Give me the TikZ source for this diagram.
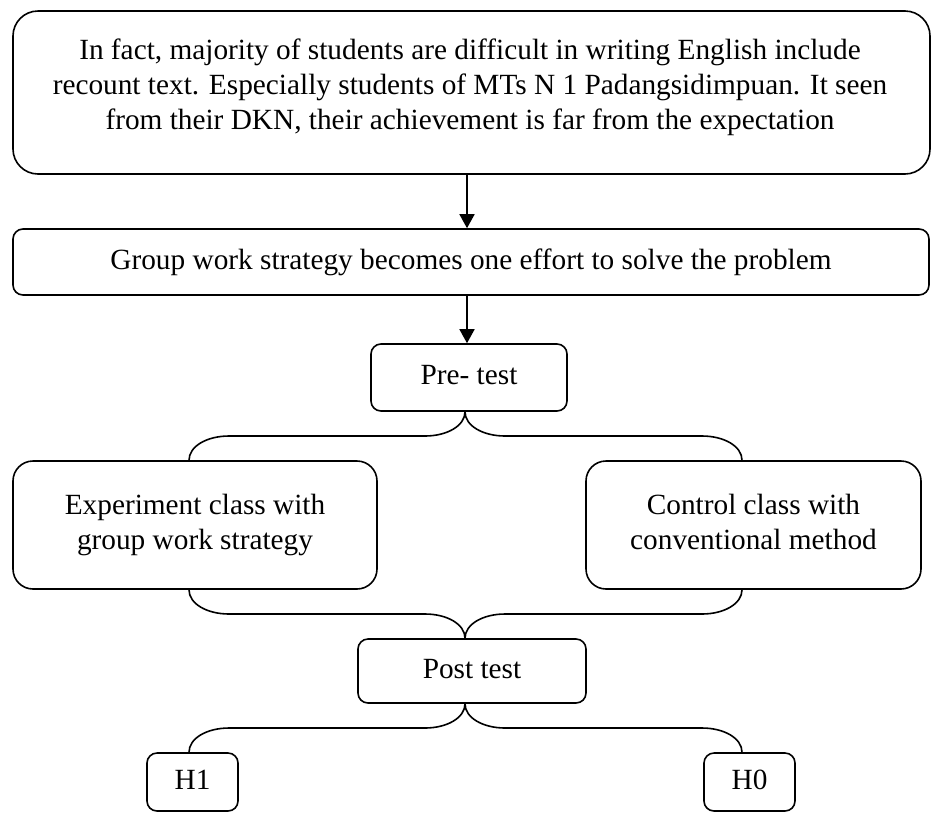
\documentclass[tikz,border=0pt]{standalone}
\usepackage{fontspec}
\setmainfont{Liberation Serif}
\usetikzlibrary{arrows.meta,calc}
\newcommand\sconn[3]{%
  \coordinate (sc-m) at ($(#1)!0.5!(#2)$);
  \draw[conn] (#1) .. controls ([yshift=-14pt]#1) and ($(#1 |- sc-m)+({(#3)*18},0)$) .. ($(#1 |- sc-m)+({(#3)*40},0)$)
    -- ($(#2 |- sc-m)+({-(#3)*40},0)$) .. controls ($(#2 |- sc-m)+({-(#3)*18},0)$) and ([yshift=14pt]#2) .. (#2);}
\begin{document}
\begin{tikzpicture}[x=1pt,y=-1pt,
  box/.style={draw, line width=1.6pt, rounded corners=#1, inner sep=0pt, align=center,
    font=\fontsize{29.3}{35}\selectfont},
  box/.default=10pt,
  one/.style={text height=20pt, text depth=6pt},
  conn/.style={line width=1.6pt},
  arr/.style={line width=1.6pt, -{Triangle[width=15pt,length=14pt]}}]
\useasboundingbox (0,0) rectangle (936,812);

\node[box=25pt, minimum width=917pt, minimum height=163pt] (top) at (471.5,92.5) {};
\node[anchor=north, inner sep=0pt, align=center, font=\fontsize{29.3}{35}\selectfont] (toptext) at (470,39)
  {In fact, majority of students are difficult in writing English include\\
   recount text. Especially students of MTs N 1 Padangsidimpuan. It seen\\
   from their DKN, their achievement is far from the expectation};

\node[box, one, minimum width=916pt, minimum height=66pt] (grp) at (471,262)
  {Group work strategy becomes one effort to solve the problem};
\node[box, one, minimum width=196pt, minimum height=67pt] (pre) at (469,377.5) {Pre- test};

\node[box=20pt, minimum width=364pt, minimum height=128pt] (exp) at (195,525)
  {Experiment class with\\group work strategy};
\node[box=20pt, minimum width=335pt, minimum height=128pt] (ctl) at (753.5,525)
  {Control class with\\conventional method\vphantom{g}};

\node[box, one, minimum width=228pt, minimum height=64pt] (post) at (472,671) {Post test};
\node[box, one, minimum width=91pt, minimum height=58pt] (h1) at (192.5,782) {H1};
\node[box, one, minimum width=91pt, minimum height=58pt] (h0) at (749.5,782) {H0};

\draw[arr] ([xshift=-4.5pt]top.south) -- ([xshift=-4pt]grp.north);
\draw[arr] ([xshift=-4pt]grp.south) -- ([xshift=-2pt]pre.north);

\coordinate (p1) at ([xshift=-4pt]pre.south);
\coordinate (e1) at ([xshift=-6pt]exp.north);
\coordinate (c1) at ([xshift=-11.5pt]ctl.north);
\sconn{p1}{e1}{-1}
\sconn{p1}{c1}{1}

\coordinate (e2) at ([xshift=-6pt]exp.south);
\coordinate (c2) at ([xshift=-11.5pt]ctl.south);
\coordinate (p2) at ([xshift=-7pt]post.north);
\sconn{e2}{p2}{1}
\sconn{c2}{p2}{-1}

\coordinate (p3) at ([xshift=-7pt]post.south);
\coordinate (h1t) at ([xshift=-3.5pt]h1.north);
\coordinate (h0t) at ([xshift=-7.5pt]h0.north);
\sconn{p3}{h1t}{-1}
\sconn{p3}{h0t}{1}
\end{tikzpicture}
\end{document}
